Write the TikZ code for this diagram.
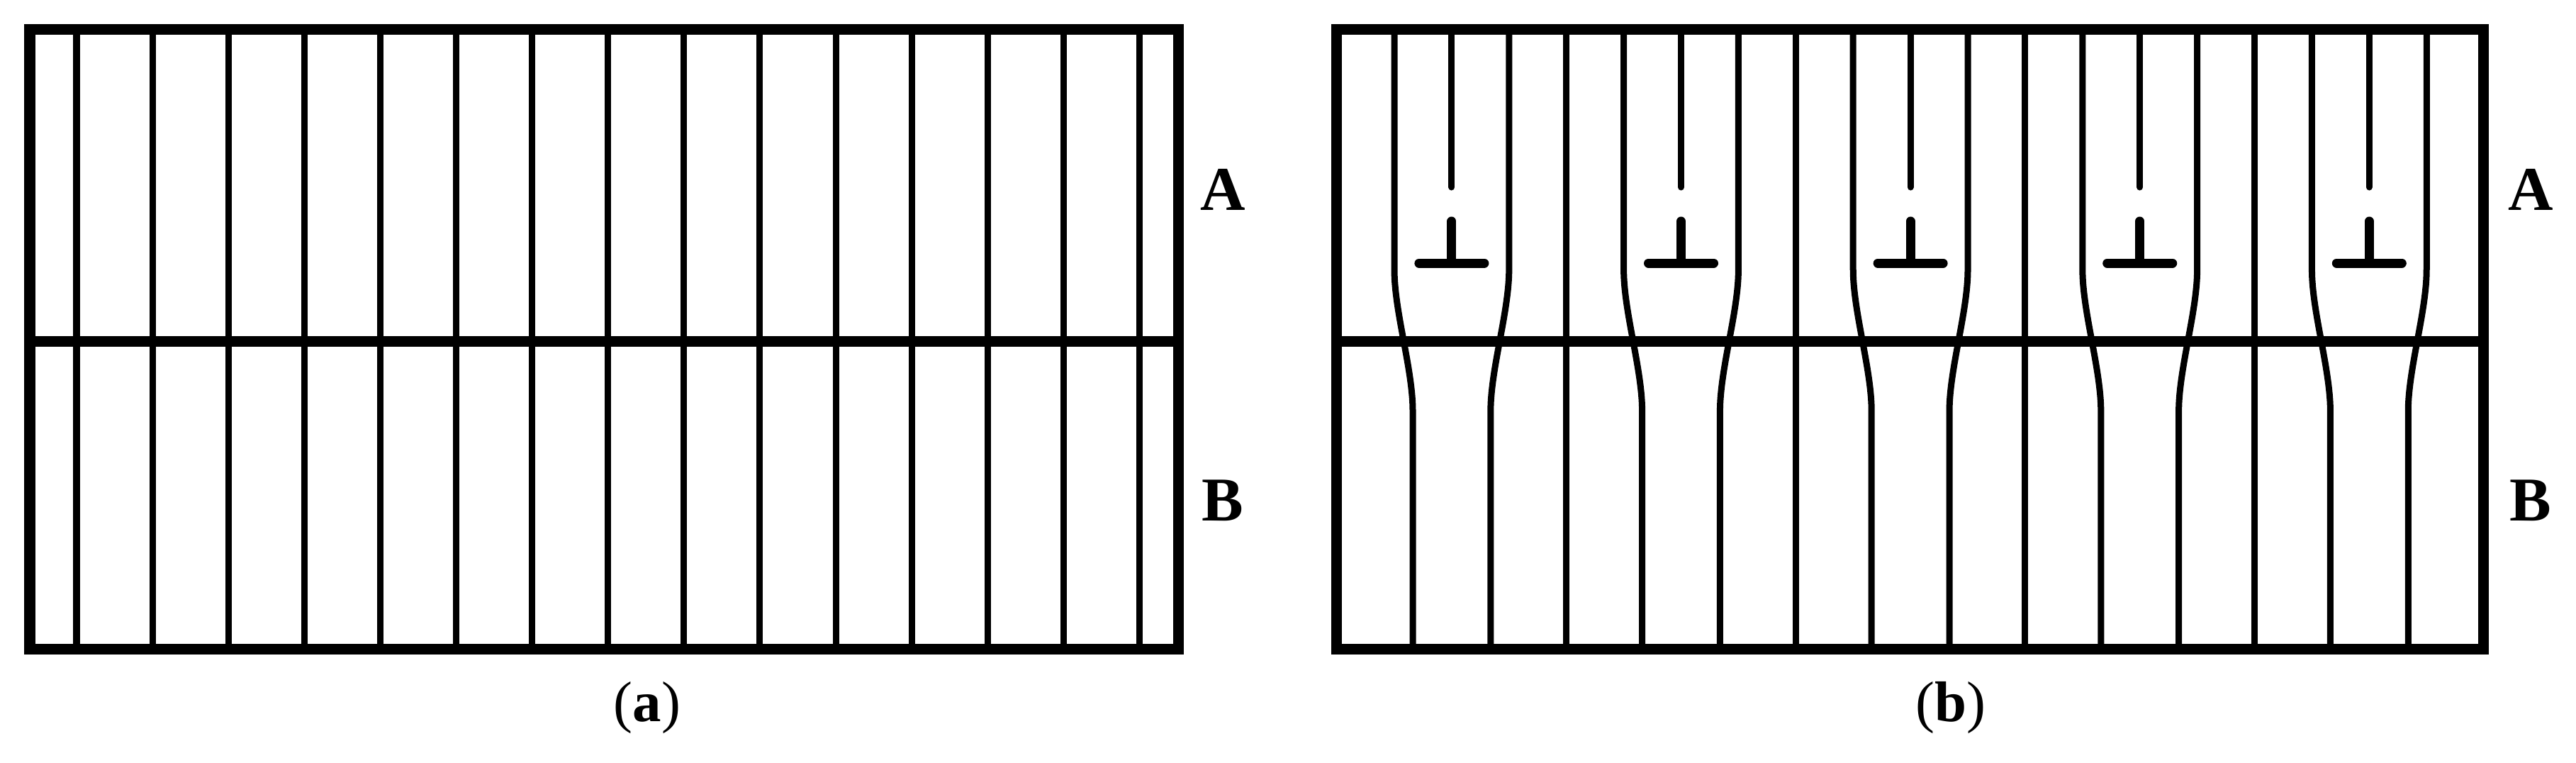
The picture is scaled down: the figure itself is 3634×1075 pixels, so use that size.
\documentclass[tikz,border=0pt]{standalone}
\usepackage{fontspec}
\setmainfont{Liberation Serif}
\begin{document}
\begin{tikzpicture}[x=0.01cm,y=-0.01cm,
  plane/.style={line width=0.09cm},
  frame/.style={line width=0.15cm},
  barline/.style={line width=0.13cm,line cap=round},
  halfplane/.style={line width=0.09cm,line cap=round},
  lab/.style={font=\fontsize{25pt}{25pt}\selectfont\bfseries},
  captext/.style={font=\fontsize{23pt}{23pt}\selectfont}]
\useasboundingbox (0,0) rectangle (3634,1075);
% ---- panel (a)
\foreach \k in {0,...,14}{\draw[plane] ({108+107.1*\k},41) -- ({108+107.1*\k},915);}
\draw[frame] (42,481) -- (1662,481);
\draw[frame] (42,41) rectangle (1662,915);
\node[lab] (la) at (1725,267) {A};
\node[lab] (lb) at (1725,706) {B};
\node[captext] (ca) at (913,998) {(\textbf{a})};
% ---- panel (b)
\foreach \g in {0,4,8,12,16}{
  \pgfmathsetmacro{\xl}{1967+80.9*\g}
  \pgfmathsetmacro{\xd}{1967+80.9*(\g+1)}
  \pgfmathsetmacro{\xr}{1967+80.9*(\g+2)}
  \draw[plane] (\xl,41) -- (\xl,380) .. controls (\xl,440) and ({\xl+26},520) .. ({\xl+26},580) -- ({\xl+26},915);
  \draw[plane] (\xr,41) -- (\xr,380) .. controls (\xr,440) and ({\xr-26},520) .. ({\xr-26},580) -- ({\xr-26},915);
  \draw[halfplane] (\xd,41) -- (\xd,264);
  \draw[barline] (\xd,312) -- (\xd,371);
  \draw[barline] ({\xd-46},371) -- ({\xd+46},371);
}
\foreach \k in {3,7,11,15}{\draw[plane] ({1967+80.9*\k},41) -- ({1967+80.9*\k},915);}
\draw[frame] (1885,481) -- (3503,481);
\draw[frame] (1885,41) rectangle (3503,915);
\node[lab] (ra) at (3570,267) {A};
\node[lab] (rb) at (3570,706) {B};
\node[captext] (cb) at (2752,998) {(\textbf{b})};
\end{tikzpicture}
\end{document}
